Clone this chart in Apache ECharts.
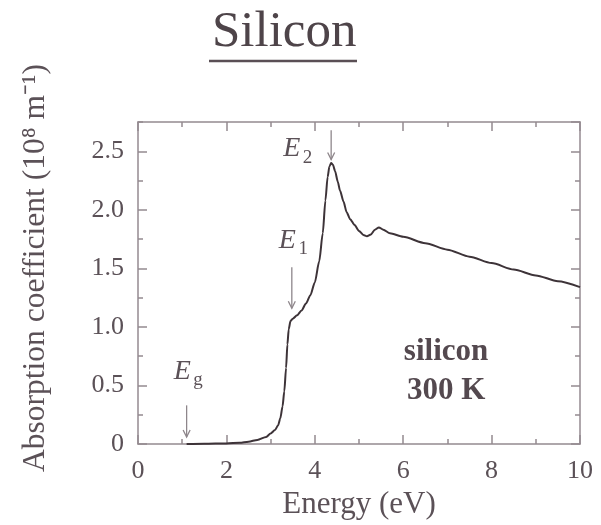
<!DOCTYPE html>
<html><head><meta charset="utf-8">
<script src="https://cdn.jsdelivr.net/npm/echarts@6/dist/echarts.min.js"></script>
<style>html,body{margin:0;padding:0;background:#fff}#c{width:601px;height:525px}</style>
</head><body><div id="c"></div>
<script>
// ---- data ----
const energy = [1.1, 1.5, 2.0, 2.3, 2.5, 2.7, 2.9, 3.0, 3.1, 3.17, 3.22, 3.27, 3.31, 3.35, 3.38, 3.41, 3.45, 3.5, 3.6, 3.7, 3.8, 3.9, 4.0, 4.1, 4.18, 4.24, 4.29, 4.33, 4.37, 4.41, 4.46, 4.52, 4.57, 4.65, 4.72, 4.8, 4.9, 5.0, 5.1, 5.18, 5.27, 5.36, 5.45, 5.55, 5.7, 6.0, 6.5, 7.0, 7.5, 8.0, 8.5, 9.0, 9.5, 10.0];
const absorption = [0, 0.002, 0.005, 0.01, 0.02, 0.035, 0.06, 0.09, 0.12, 0.16, 0.22, 0.32, 0.45, 0.65, 0.85, 0.98, 1.05, 1.07, 1.10, 1.14, 1.20, 1.27, 1.38, 1.56, 1.80, 2.08, 2.28, 2.37, 2.40, 2.385, 2.33, 2.24, 2.165, 2.07, 1.98, 1.92, 1.87, 1.82, 1.785, 1.775, 1.79, 1.83, 1.85, 1.83, 1.80, 1.77, 1.715, 1.66, 1.60, 1.545, 1.49, 1.44, 1.39, 1.34];
const xTickValues = [0, 2, 4, 6, 8, 10];
const yTickLabels = ['0', '0.5', '1.0', '1.5', '2.0', '2.5'];
// annotation labels (data coordinates): label centre, arrow x, arrow top y, arrow tip y
const annoMain = ['E', 'E', 'E'];
const annoSub = ['2', '1', 'g'];
const annoLabelAt = [[3.48, 2.52], [3.38, 1.74], [1.0, 0.62]];
const annoArrowAt = [[4.37, 2.68, 2.43], [3.48, 1.51, 1.16], [1.1, 0.33, 0.06]];
const sampleText = ['silicon', '300 K'];
const sampleTextAt = [[6.97, 0.79], [6.97, 0.45]];
const titleText = 'Silicon';
const xName = 'Energy (eV)';
const yName = 'Absorption coefficient (10\u2078 m\u207B\u00B9)';

// ---- styles ----
const FONT = "'Liberation Serif', 'Times New Roman', serif";
const textCol = '#5b5157';
const axisCol = '#948a90';
const curveCol = '#3d3338';
const arrowCol = '#8e868b';

const chart = echarts.init(document.getElementById('c'), null, {renderer: 'canvas'});

function xAx(pos, withLabels) {
  return {
    type: 'value', position: pos, min: 0, max: 10, interval: 2,
    axisLine: {show: true, onZero: false, lineStyle: {color: axisCol, width: 1.5}},
    axisTick: {show: true, inside: true, length: 9, lineStyle: {color: axisCol, width: 1.5}},
    minorTick: {show: true, splitNumber: 2, length: 5, lineStyle: {color: axisCol, width: 1.5}},
    splitLine: {show: false},
    axisLabel: {show: withLabels, margin: 14, fontFamily: FONT, fontSize: 26, color: textCol,
      formatter: v => xTickValues.indexOf(v) >= 0 ? String(v) : ''},
    name: withLabels ? xName : '',
    nameLocation: 'middle', nameGap: 44,
    nameTextStyle: {fontFamily: FONT, fontSize: 31, color: textCol}
  };
}
function yAx(pos, step, len, withLine, withLabels) {
  return {
    type: 'value', position: pos, min: 0, max: 2.75, interval: step,
    axisLine: {show: withLine, onZero: false, lineStyle: {color: axisCol, width: 1.5}},
    axisTick: {show: true, inside: true, length: len, lineStyle: {color: axisCol, width: 1.5}},
    splitLine: {show: false},
    axisLabel: {show: withLabels, margin: 14, fontFamily: FONT, fontSize: 26, color: textCol,
      showMaxLabel: false,
      formatter: v => { const i = Math.round(v / 0.5); return (Math.abs(v - i * 0.5) < 1e-6 && i < yTickLabels.length) ? yTickLabels[i] : ''; }},
    name: withLabels ? yName : '',
    nameLocation: 'middle', nameGap: 86, nameRotate: 90,
    nameTextStyle: {fontFamily: FONT, fontSize: 31.5, color: textCol, padding: [0, 0, 0, 30]}
  };
}

const option = {
  animation: false,
  backgroundColor: '#ffffff',
  title: {
    text: titleText, left: 212, top: 7, padding: 0,
    textStyle: {fontFamily: FONT, fontSize: 51, fontWeight: 'normal', color: '#4e4449'}
  },
  grid: {left: 138, right: 21, top: 122, bottom: 81, containLabel: false},
  xAxis: [xAx('bottom', true), xAx('top', false)],
  yAxis: [yAx('left', 0.5, 9, true, true), yAx('left', 0.25, 5, false, false),
          yAx('right', 0.5, 9, true, false), yAx('right', 0.25, 5, false, false)],
  series: [{
    type: 'line', xAxisIndex: 0, yAxisIndex: 0,
    data: energy.map((e, i) => [e, absorption[i]]),
    showSymbol: false, symbol: 'none', smooth: 0.25, smoothMonotone: 'x',
    lineStyle: {color: curveCol, width: 2}
  }]
};
chart.setOption(option);

function px(p) { return chart.convertToPixel({xAxisIndex: 0, yAxisIndex: 0}, p); }
const graphics = [];
// title underline
graphics.push({type: 'line', shape: {x1: 209, y1: 61, x2: 357, y2: 61}, style: {stroke: '#5a4f55', lineWidth: 2.5}, silent: true});
for (let i = 0; i < annoMain.length; i++) {
  const c = px(annoLabelAt[i]);
  graphics.push({type: 'text', x: c[0], y: c[1], style: {text: annoMain[i], fontFamily: FONT, fontStyle: 'italic', fontSize: 28, fill: textCol, align: 'center', verticalAlign: 'middle'}, silent: true});
  graphics.push({type: 'text', x: c[0] + 11, y: c[1] + 9, style: {text: annoSub[i], fontFamily: FONT, fontSize: 19, fill: textCol, align: 'left', verticalAlign: 'middle'}, silent: true});
  const a = px([annoArrowAt[i][0], annoArrowAt[i][1]]);
  const b = px([annoArrowAt[i][0], annoArrowAt[i][2]]);
  graphics.push({type: 'line', shape: {x1: a[0], y1: a[1], x2: b[0], y2: b[1]}, style: {stroke: arrowCol, lineWidth: 1.3}, silent: true});
  graphics.push({type: 'polyline', shape: {points: [[b[0] - 3.5, b[1] - 7], [b[0], b[1]], [b[0] + 3.5, b[1] - 7]]}, style: {stroke: arrowCol, lineWidth: 1.3, fill: null}, silent: true});
}
for (let i = 0; i < sampleText.length; i++) {
  const c = px(sampleTextAt[i]);
  graphics.push({type: 'text', x: c[0], y: c[1], style: {text: sampleText[i], fontFamily: FONT, fontWeight: 'bold', fontSize: 31, fill: '#54494f', align: 'center', verticalAlign: 'middle'}, silent: true});
}
chart.setOption({graphic: graphics});
</script>
</body></html>
